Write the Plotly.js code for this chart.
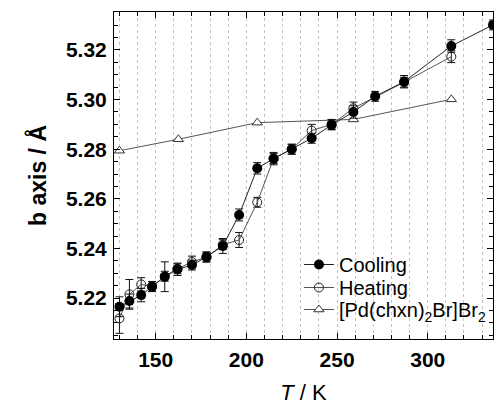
<!DOCTYPE html>
<html>
<head>
<meta charset="utf-8">
<script src="https://cdn.plot.ly/plotly-3.0.1.min.js"></script>
<style>html,body{margin:0;padding:0;background:#fff;}#chart{width:494px;height:405px;}</style>
</head>
<body>
<div id="chart"></div>
<script>
// Cooling
var coolT   = [130, 135.5, 142, 148, 155, 162, 170, 178, 187, 196, 206, 215, 225, 236, 247, 259, 271, 287, 313, 336];
var coolB   = [5.2165, 5.2188, 5.2212, 5.2246, 5.2286, 5.2316, 5.2333, 5.2366, 5.2410, 5.2535, 5.2723, 5.2762, 5.2800, 5.2844, 5.2898, 5.2950, 5.3013, 5.3072, 5.3216, 5.3301];
var coolErr = [0.004, 0.0028, 0.0027, 0.002, 0.006, 0.0025, 0.002, 0.002, 0.003, 0.0024, 0.0023, 0.0025, 0.002, 0.002, 0.002, 0.0025, 0.002, 0.0025, 0.0025, 0.002];
// Heating
var heatT   = [130, 135.5, 142, 148, 155, 162, 170, 178, 187, 196, 206, 215, 225, 236, 247, 259, 287, 313];
var heatB   = [5.2118, 5.2215, 5.2255, 5.2247, 5.2288, 5.2318, 5.2346, 5.2365, 5.2415, 5.2434, 5.2586, 5.2762, 5.2800, 5.2875, 5.2900, 5.2965, 5.3070, 5.3173];
var heatErr = [0.006, 0.006, 0.0027, 0.002, 0.002, 0.002, 0.0023, 0.002, 0.002, 0.003, 0.002, 0.002, 0.002, 0.0025, 0.002, 0.0025, 0.002, 0.0024];
// [Pd(chxn)2Br]Br2
var pdT = [130, 162.5, 206, 259, 313];
var pdB = [5.2794, 5.2840, 5.2907, 5.2920, 5.3001];

var ff = 'Liberation Sans, Arial, sans-serif';

var traces = [
  {x: pdT, y: pdB, type: 'scatter', mode: 'lines+markers', name: '[Pd(chxn)<sub>2</sub>Br]Br<sub>2</sub>', legend: 'legend3',
   line: {color: '#555', width: 1},
   marker: {symbol: 'triangle-up', size: 9, color: '#fff', line: {color: '#333', width: 1}}},
  {x: heatT, y: heatB, type: 'scatter', mode: 'lines+markers', name: 'Heating', legend: 'legend2',
   line: {color: '#555', width: 1},
   marker: {symbol: 'circle-open', size: 9, color: '#222', line: {width: 1}},
   error_y: {type: 'data', array: heatErr, visible: true, color: '#111', thickness: 1, width: 4}},
  {x: coolT, y: coolB, type: 'scatter', mode: 'lines+markers', name: 'Cooling', legend: 'legend',
   line: {color: '#222', width: 1},
   marker: {symbol: 'circle', size: 10, color: '#000'},
   error_y: {type: 'data', array: coolErr, visible: true, color: '#111', thickness: 1, width: 4}}
];

function leg(y) {
  return {x: 0.488, y: y, xanchor: 'left', yanchor: 'top', bgcolor: 'rgba(0,0,0,0)',
          font: {family: ff, size: 20, color: '#000'}, itemwidth: 30};
}

var layout = {
  width: 494, height: 405,
  margin: {l: 114, r: 1, t: 12, b: 66},
  paper_bgcolor: '#fff', plot_bgcolor: '#fff',
  showlegend: true,
  legend: leg(0.2875),
  legend2: leg(0.2171),
  legend3: leg(0.1498),
  xaxis: {
    range: [127, 336], tickmode: 'linear', tick0: 150, dtick: 50,
    ticks: 'inside', ticklen: 6, tickcolor: '#000', tickwidth: 1,
    showline: true, linecolor: '#000', linewidth: 1, mirror: 'ticks',
    showgrid: true, gridcolor: '#c4c4c4', griddash: 'dot', gridwidth: 1,
    zeroline: false,
    minor: {dtick: 10, tick0: 130, ticks: 'inside', ticklen: 4, tickcolor: '#000', showgrid: true, gridcolor: '#c4c4c4', griddash: 'dot', gridwidth: 1},
    tickfont: {family: ff, size: 21, color: '#000', weight: 'bold'},
    ticklabelstandoff: 2,
    title: {text: '<i>T</i> / K', font: {family: ff, size: 22, color: '#000'}, standoff: 22}
  },
  yaxis: {
    range: [5.2035, 5.3353], tickmode: 'linear', tick0: 5.20, dtick: 0.02, tickformat: '.2f',
    ticks: 'inside', ticklen: 6, tickcolor: '#000', tickwidth: 1,
    showline: true, linecolor: '#000', linewidth: 1, mirror: 'ticks',
    showgrid: false, zeroline: false,
    minor: {dtick: 0.005, ticks: 'inside', ticklen: 4, tickcolor: '#000', showgrid: false},
    tickfont: {family: ff, size: 21, color: '#000', weight: 'bold'},
    ticklabelstandoff: 2,
    title: {text: 'b axis / Å', font: {family: ff, size: 23, color: '#000', weight: 'bold'}, standoff: 12}
  }
};

Plotly.newPlot('chart', traces, layout, {displayModeBar: false, staticPlot: true});
</script>
</body>
</html>
